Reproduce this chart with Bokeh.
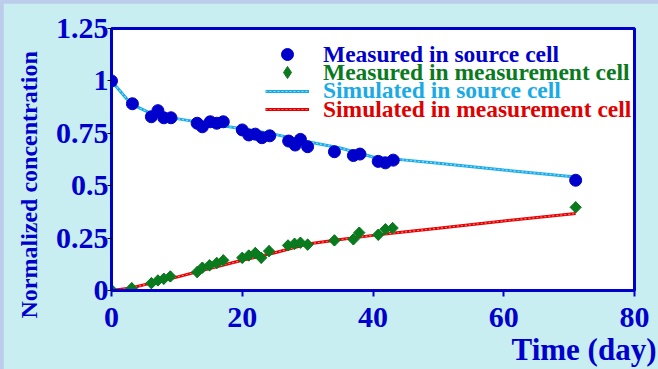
import numpy as np
from bokeh.plotting import figure
from bokeh.models import Range1d, Legend, LegendItem, FixedTicker, Title, ColumnDataSource
from bokeh.layouts import column
from bokeh.embed import file_html
from bokeh.resources import INLINE

src_days = [0, 3.2, 6.1, 7.1, 8.0, 9.1, 13.1, 13.9, 15.1, 16.1, 17.1, 20.0, 21.0, 22.0, 23.0, 24.2,
            27.1, 28.1, 28.9, 30.0, 34.1, 37.0, 38.0, 40.8, 41.9, 43.1, 71.0]
src_vals = [1.0, 0.891, 0.829, 0.858, 0.824, 0.824, 0.798, 0.781, 0.805, 0.798, 0.805, 0.766, 0.742,
            0.746, 0.729, 0.738, 0.713, 0.694, 0.721, 0.686, 0.662, 0.644, 0.651, 0.616, 0.609, 0.622, 0.526]

meas_days = [0, 3.1, 6.1, 7.1, 8.0, 9.0, 13.1, 13.9, 15.0, 16.1, 17.1, 20.0, 21.0, 22.0, 22.9, 24.1,
             27.0, 28.0, 28.9, 30.0, 34.1, 37.0, 37.9, 40.8, 41.9, 43.0, 71.0]
meas_vals = [0.003, 0.011, 0.035, 0.048, 0.056, 0.067, 0.088, 0.109, 0.120, 0.131, 0.144, 0.156, 0.167,
             0.179, 0.156, 0.188, 0.215, 0.223, 0.228, 0.219, 0.239, 0.244, 0.276, 0.266, 0.292, 0.298, 0.397]

# Simulated curves
sim_days = [0, 3, 6, 10, 15, 20, 25, 30, 35, 40, 45, 50, 60, 71]
sim_src = [1.0, 0.89, 0.845, 0.82, 0.795, 0.772, 0.745, 0.71, 0.68, 0.637, 0.622, 0.607, 0.575, 0.542]
sim_meas = [0.0, 0.012, 0.035, 0.064, 0.105, 0.144, 0.18, 0.222, 0.243, 0.263, 0.28, 0.297, 0.332, 0.367]

x_ticks = [0, 20, 40, 60, 80]
y_ticks = [0, 0.25, 0.5, 0.75, 1.0, 1.25]
y_tick_labels = ["0", "0.25", "0.5", "0.75", "1", "1.25"]

BLUE = "#0000CC"
GREEN = "#0A7A1E"
CYAN = "#1AAAE6"
RED = "#E00000"
BG = "#C8EEF2"
FONT = "Liberation Serif"

p = figure(width=655, height=366, output_backend="svg", toolbar_location=None,
           x_range=Range1d(0, 80), y_range=Range1d(0, 1.25),
           min_border_left=108, min_border_right=24, min_border_top=25, min_border_bottom=79,
           margin=(3, 0, 0, 3))
p.background_fill_color = "white"
p.border_fill_color = BG
p.outline_line_color = BLUE
p.outline_line_width = 3
p.xgrid.visible = False
p.ygrid.visible = False

p.xaxis.ticker = FixedTicker(ticks=x_ticks)
p.yaxis.ticker = FixedTicker(ticks=y_ticks)
p.yaxis.major_label_overrides = {t: l for t, l in zip(y_ticks, y_tick_labels)}
for ax in (p.xaxis[0], p.yaxis[0]):
    ax.axis_line_color = BLUE
    ax.axis_line_width = 3
    ax.minor_tick_line_color = None
    ax.major_label_text_font = FONT
    ax.major_label_text_font_style = "bold"
    ax.major_label_text_font_size = "30px"
    ax.major_label_text_color = BLUE
p.xaxis.major_tick_line_color = BLUE
p.xaxis.major_tick_line_width = 2
p.xaxis.major_tick_out = 6
p.xaxis.major_tick_in = 0
p.xaxis.major_label_standoff = 11
p.yaxis.major_tick_line_color = "black"
p.yaxis.major_tick_line_width = 1
p.yaxis.major_tick_out = 4
p.yaxis.major_tick_in = 0
p.yaxis.major_label_standoff = -1

# simulated lines (solid + dotted overlay)
r_cs = p.line(sim_days, sim_src, line_color=CYAN, line_width=3)
r_cd = p.line(sim_days, sim_src, line_color="#8ADAF6", line_width=1.2, line_dash="2 2")
r_rs = p.line(sim_days, sim_meas, line_color=RED, line_width=3)
r_rd = p.line(sim_days, sim_meas, line_color="#FF7070", line_width=1.2, line_dash="2 2")

# measured markers
r_b = p.scatter(src_days, src_vals, marker="circle", size=12, fill_color=BLUE, line_color=BLUE)
# diamond under each rotated square (gives the legend a diamond swatch)
r_g_key = p.scatter(meas_days, meas_vals, marker="diamond", size=11, fill_color=GREEN, line_color=GREEN)
meas_src = ColumnDataSource(dict(x=meas_days, y=meas_vals, a=[np.pi / 4] * len(meas_days)))
r_g = p.scatter("x", "y", source=meas_src, marker="square", size=8, angle="a",
                fill_color=GREEN, line_color=GREEN)

entries = [
    ("Measured in source cell", [r_b], BLUE, 221),
    ("Measured in measurement cell", [r_g_key], GREEN, 203),
    ("Simulated in source cell", [r_cs, r_cd], CYAN, 184.5),
    ("Simulated in measurement cell", [r_rs, r_rd], RED, 166),
]
for text, rends, col, vy in entries:
    lg = Legend(items=[LegendItem(label=text, renderers=rends)], location=(154, vy),
                padding=0, margin=0, spacing=0, glyph_width=44, glyph_height=30, label_height=30,
                label_standoff=14, border_line_color=None, background_fill_alpha=0,
                label_text_font=FONT, label_text_font_style="bold", label_text_font_size="23.5px",
                label_text_color=col, label_text_baseline="middle")
    p.add_layout(lg, "center")

p.add_layout(Title(text="Time (day)", align="right", offset=-22, standoff=0,
                   text_font=FONT, text_font_style="bold", text_font_size="31px",
                   text_color=BLUE), "below")
p.add_layout(Title(text="Normalized concentration", align="left", offset=-28, standoff=21,
                   text_font=FONT, text_font_style="bold", text_font_size="24px",
                   text_color=BLUE), "left")

layout = column(p, styles={"background-color": "#BCCCEA"})
open("out.html", "w").write(file_html(layout, INLINE))
